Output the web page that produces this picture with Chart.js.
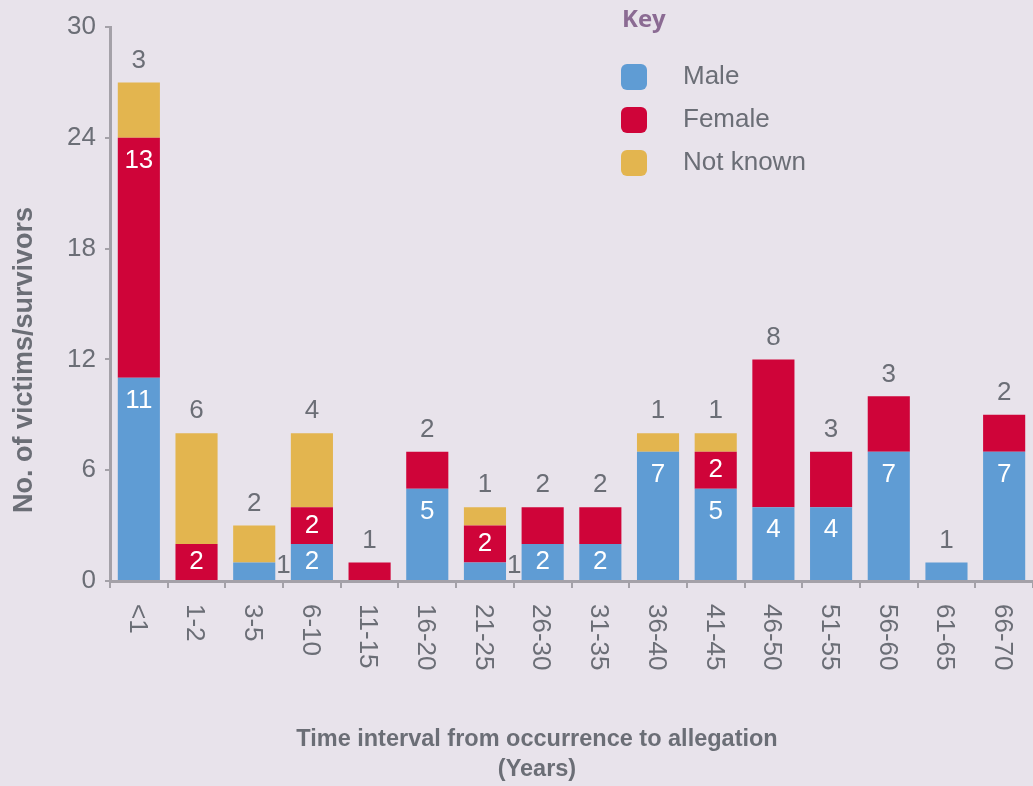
<!DOCTYPE html>
<html>
<head>
<meta charset="utf-8">
<script src="https://cdn.jsdelivr.net/npm/chart.js@4/dist/chart.umd.min.js"></script>
<style>
  html, body { margin: 0; padding: 0; background: #e8e3eb; overflow: hidden; }
  #wrap { width: 1033px; height: 786px; }
</style>
</head>
<body>
<div id="wrap"><canvas id="grafico" width="1033" height="786"></canvas></div>
<script>
// Dados
const categorias = ['<1', '1-2', '3-5', '6-10', '11-15', '16-20', '21-25', '26-30',
  '31-35', '36-40', '41-45', '46-50', '51-55', '56-60', '61-65', '66-70'];
const masculino = [11, 0, 1, 2, 0, 5, 1, 2, 2, 7, 5, 4, 4, 7, 1, 7];
const feminino  = [13, 2, 0, 2, 1, 2, 2, 2, 2, 0, 2, 8, 3, 3, 0, 2];
const naoSabido = [3, 6, 2, 4, 0, 0, 1, 0, 0, 1, 1, 0, 0, 0, 0, 0];
const yTicks = [0, 6, 12, 18, 24, 30];
const nomesSeries = ['Male', 'Female', 'Not known'];

const CORES = ['#5f9cd4', '#cf0439', '#e3b54f'];
const CINZA = '#6b6e76';
const EIXO = '#a4a1a8';
const FONTE = '"Liberation Sans", Arial, sans-serif';

// Rótulos de valor nas barras
const rotulosPlugin = {
  id: 'rotulos',
  afterDatasetsDraw(chart) {
    const ctx = chart.ctx;
    const ds = chart.data.datasets;
    ctx.save();
    ctx.font = '26px ' + FONTE;
    ctx.textBaseline = 'middle';
    categorias.forEach((c, i) => {
      // série do topo = última com valor
      let topo = -1;
      ds.forEach((d, j) => { if (d.data[i] > 0) topo = j; });
      ds.forEach((d, j) => {
        const v = d.data[i];
        if (!v) return;
        const bar = chart.getDatasetMeta(j).data[i];
        const topY = Math.min(bar.y, bar.base);
        const baseY = Math.max(bar.y, bar.base);
        if (j === topo) {
          ctx.fillStyle = CINZA;
          ctx.textAlign = 'center';
          ctx.fillText(String(v), bar.x, topY - 22);
        } else if (v >= 2) {
          ctx.fillStyle = '#ffffff';
          ctx.textAlign = 'center';
          ctx.fillText(String(v), bar.x, Math.min(topY + 23, (topY + baseY) / 2));
        } else {
          ctx.fillStyle = CINZA;
          ctx.textAlign = 'left';
          ctx.fillText(String(v), bar.x + bar.width / 2 + 1, baseY - 14);
        }
      });
    });
    ctx.restore();
  }
};

// Rótulos do eixo X, títulos e legenda
const extrasPlugin = {
  id: 'extras',
  afterDraw(chart) {
    const ctx = chart.ctx;
    const x = chart.scales.x;
    ctx.save();
    // rótulos do eixo X girados 90° no sentido horário
    ctx.font = '26px ' + FONTE;
    ctx.fillStyle = CINZA;
    categorias.forEach((c, i) => {
      ctx.save();
      ctx.translate(x.getPixelForTick(i) - 2, 604);
      ctx.rotate(Math.PI / 2);
      ctx.textAlign = 'left';
      ctx.textBaseline = 'middle';
      ctx.fillText(c, 0, 0);
      ctx.restore();
    });

    // título do eixo X
    ctx.font = 'bold 23.5px ' + FONTE;
    ctx.textAlign = 'center';
    ctx.textBaseline = 'alphabetic';
    ctx.fillText('Time interval from occurrence to allegation', 537, 746);
    ctx.fillText('(Years)', 537, 776);

    // título do eixo Y
    ctx.save();
    ctx.translate(32, 360);
    ctx.rotate(-Math.PI / 2);
    ctx.font = 'bold 27px ' + FONTE;
    ctx.textAlign = 'center';
    ctx.textBaseline = 'alphabetic';
    ctx.fillText('No. of victims/survivors', 0, 0);
    ctx.restore();

    // legenda
    ctx.font = 'bold 24px "Open Sans", sans-serif';
    ctx.fillStyle = '#8b6b93';
    ctx.textAlign = 'left';
    ctx.textBaseline = 'middle';
    ctx.fillText('Key', 622, 20);
    ctx.font = '26px ' + FONTE;
    chart.data.datasets.forEach((d, j) => {
      const cy = 77 + j * 43;
      ctx.fillStyle = d.backgroundColor;
      ctx.beginPath();
      ctx.roundRect(621, cy - 13, 26, 26, 6);
      ctx.fill();
      ctx.fillStyle = CINZA;
      ctx.fillText(d.label, 683, cy);
    });
    ctx.restore();
  }
};

new Chart(document.getElementById('grafico'), {
  type: 'bar',
  data: {
    labels: categorias,
    datasets: [
      { label: nomesSeries[0], data: masculino, backgroundColor: CORES[0] },
      { label: nomesSeries[1], data: feminino, backgroundColor: CORES[1] },
      { label: nomesSeries[2], data: naoSabido, backgroundColor: CORES[2] }
    ]
  },
  options: {
    responsive: false,
    animation: false,
    devicePixelRatio: 1,
    layout: { padding: { top: 27, right: 0, bottom: 0, left: 0 } },
    datasets: { bar: { categoryPercentage: 1, barPercentage: 0.73, borderWidth: 0 } },
    plugins: { legend: { display: false }, tooltip: { enabled: false } },
    scales: {
      x: {
        stacked: true,
        afterFit(s) { s.height = 205; },
        ticks: { display: false },
        grid: { drawOnChartArea: false, offset: true, tickLength: 7, color: EIXO, lineWidth: 2 },
        border: { color: EIXO, width: 3 }
      },
      y: {
        stacked: true,
        min: 0,
        max: 30,
        afterFit(s) { s.width = 110; },
        afterBuildTicks(s) { s.ticks = yTicks.map(v => ({ value: v })); },
        ticks: { color: CINZA, font: { family: FONTE, size: 26 }, padding: 9 },
        grid: { drawOnChartArea: false, tickLength: 5, color: EIXO, lineWidth: 2 },
        border: { color: EIXO, width: 3 }
      }
    }
  },
  plugins: [rotulosPlugin, extrasPlugin]
});
</script>
</body>
</html>
